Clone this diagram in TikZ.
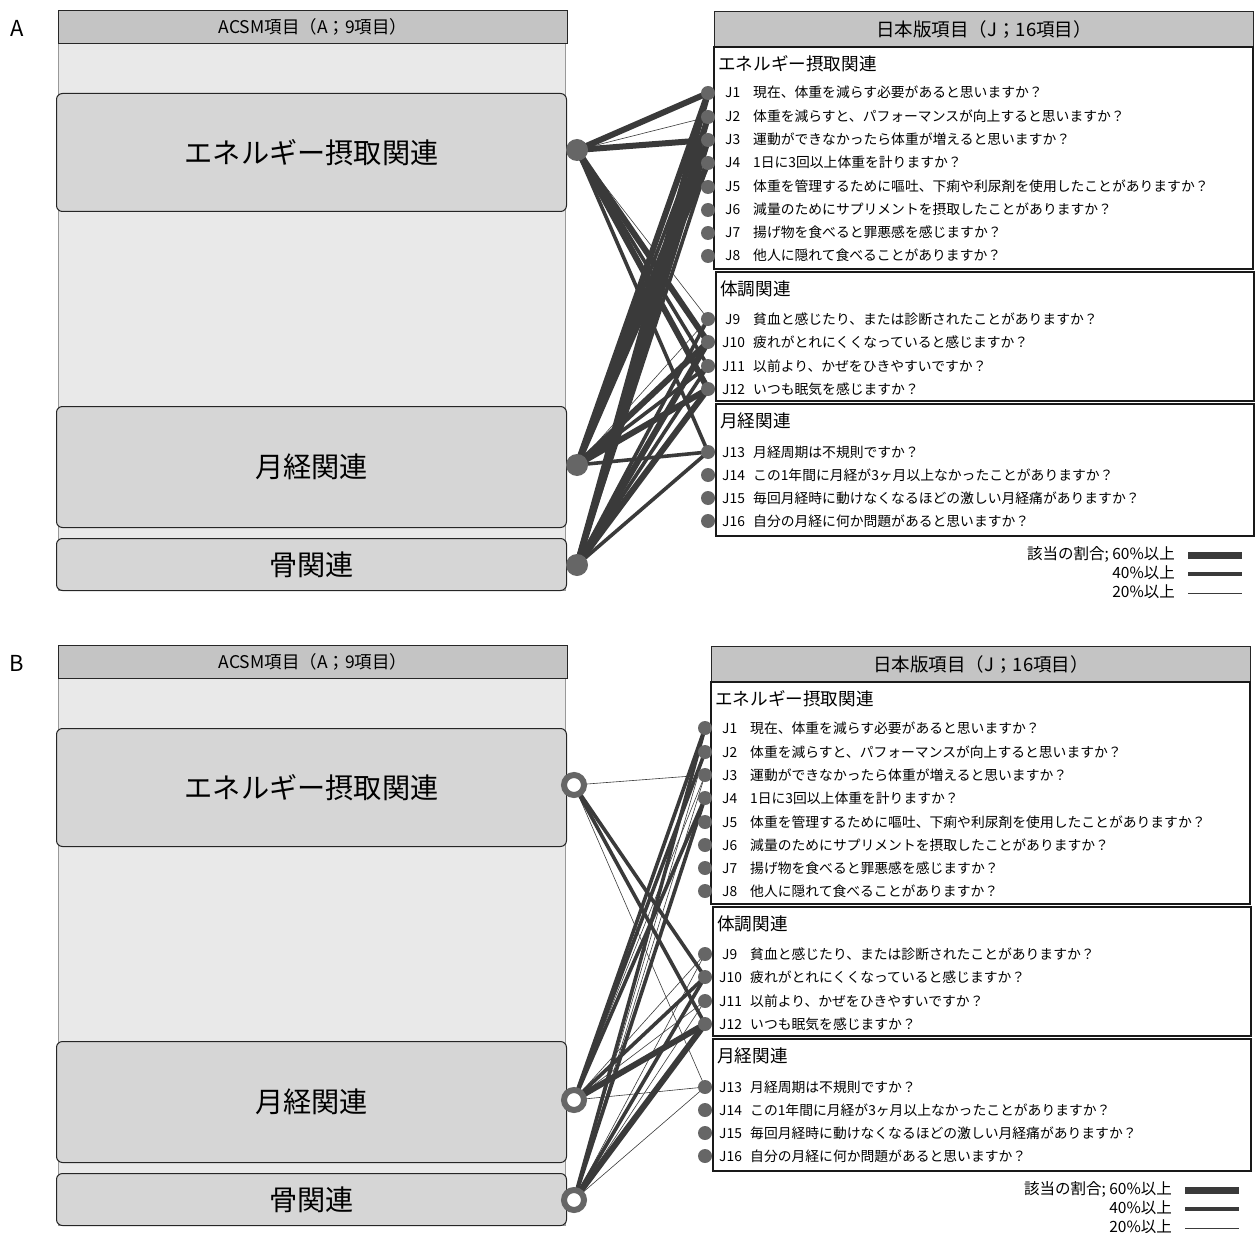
\documentclass[tikz,border=0pt]{standalone}
\usepackage{fontspec}
\setmainfont{Noto Sans CJK JP}
\pgfdeclarelayer{edges}
\pgfdeclarelayer{top}
\pgfsetlayers{main,edges,top}
\definecolor{hdrfill}{HTML}{C4C4C4}
\definecolor{colfill}{HTML}{E9E9E9}
\definecolor{catfill}{HTML}{D6D6D6}
\definecolor{dotgray}{HTML}{666666}
\definecolor{edgecol}{HTML}{3A3A3A}
\tikzset{
  hdrbox/.style={draw=black!85,line width=1.1pt,fill=hdrfill,anchor=north west,inner sep=0pt},
  colbg/.style={draw=black!40,line width=0.6pt,fill=colfill},
  catbox/.style={draw=black!85,line width=1pt,fill=catfill,rounded corners=6pt,anchor=north west,inner sep=0pt,font=\fontsize{28.2}{30}\selectfont},
  grpbox/.style={draw=black!90,line width=1.1pt,fill=white},
  grptitle/.style={anchor=west,inner sep=0pt,font=\fontsize{17.6}{19}\selectfont},
  jdot/.style={circle,fill=dotgray,inner sep=0pt,minimum size=14pt},
  anodeA/.style={circle,fill=dotgray,inner sep=0pt,minimum size=22pt},
  anodeB/.style={circle,fill=white,draw=dotgray,line width=6pt,inner sep=0pt,minimum size=20pt},
  e60/.style={draw=edgecol,line width=6pt},
  e40/.style={draw=edgecol,line width=3.6pt},
  e20/.style={draw=edgecol,line width=0.6pt},
  itemtxt/.style={anchor=west,inner sep=0pt,text height=0.8em,text depth=0.2em,font=\fontsize{13.8}{14}\selectfont},
  legtxt/.style={anchor=east,inner sep=0pt,text height=0.8em,text depth=0.2em,font=\fontsize{15.5}{16}\selectfont},
  panlbl/.style={anchor=center,inner sep=0pt,font=\fontsize{22}{24}\selectfont},
}
% #1 prefix, #2 y shift, #3 x shift of right part, #4 left node style, #5 letter, #6 left node x
\newcommand{\drawpanel}[6]{%
\begin{scope}[shift={(0,#2)}]
  \node[panlbl] (#1let) at (17,28) {#5};
  % left column
  \path[colbg] (58,43) rectangle (565,590);
  \node[hdrbox,minimum width=509pt,minimum height=33pt,font=\fontsize{17.5}{19}\selectfont] (#1lh) at (58,10) {ACSM項目（A；9項目）};
  \node[catbox,minimum width=510pt,minimum height=118pt] (#1ce) at (56,93) {エネルギー摂取関連};
  \node[catbox,minimum width=510pt,minimum height=121pt] (#1cm) at (56,406) {月経関連};
  \node[catbox,minimum width=510pt,minimum height=52pt] (#1cb) at (56,538) {骨関連};
  % right part
  \begin{scope}[shift={(#3,0)}]
    \node[hdrbox,minimum width=539pt,minimum height=36pt,font=\fontsize{18.5}{20}\selectfont] (#1rh) at (714,11) {日本版項目（J；16項目）};
    \path[grpbox] (714,47) rectangle (1253,269);
    \path[grpbox] (716,272) rectangle (1254,401);
    \path[grpbox] (716,404) rectangle (1254,536);
    \node[grptitle] (#1g1) at (718,64) {エネルギー摂取関連};
    \node[grptitle] (#1g2) at (720,289) {体調関連};
    \node[grptitle] (#1g3) at (720,421) {月経関連};
    \foreach \i/\yy/\txt in {
      1/93/{現在、体重を減らす必要があると思いますか？},
      2/117/{体重を減らすと、パフォーマンスが向上すると思いますか？},
      3/140/{運動ができなかったら体重が増えると思いますか？},
      4/163/{1日に3回以上体重を計りますか？},
      5/187/{体重を管理するために嘔吐、下痢や利尿剤を使用したことがありますか？},
      6/210/{減量のためにサプリメントを摂取したことがありますか？},
      7/233/{揚げ物を食べると罪悪感を感じますか？},
      8/256/{他人に隠れて食べることがありますか？},
      9/319/{貧血と感じたり、または診断されたことがありますか？},
      10/342/{疲れがとれにくくなっていると感じますか？},
      11/366/{以前より、かぜをひきやすいですか？},
      12/389/{いつも眠気を感じますか？},
      13/452/{月経周期は不規則ですか？},
      14/475/{この1年間に月経が3ヶ月以上なかったことがありますか？},
      15/498/{毎回月経時に動けなくなるほどの激しい月経痛がありますか？},
      16/521/{自分の月経に何か問題があると思いますか？}}{
      \node[itemtxt] (#1L\i) at ({\i<10 ? 725 : 722},\yy+2) {J\i};
      \node[itemtxt] (#1T\i) at (753,\yy+2) {\txt};
      \begin{pgfonlayer}{top}
        \node[jdot] (#1J\i) at (708,\yy) {};
      \end{pgfonlayer}
    }
    % legend
    \node[legtxt] (#1lg1) at (1175,556) {該当の割合; 60\%以上};
    \node[legtxt] (#1lg2) at (1175,575) {40\%以上};
    \node[legtxt] (#1lg3) at (1175,594) {20\%以上};
    \coordinate (#1la1) at (1188,555); \coordinate (#1lb1) at (1242,555);
    \coordinate (#1la2) at (1188,574); \coordinate (#1lb2) at (1242,574);
    \coordinate (#1la3) at (1188,593); \coordinate (#1lb3) at (1242,593);
    \draw[edgecol,line width=7pt] (#1la1) -- (#1lb1);
    \draw[edgecol,line width=3.6pt] (#1la2) -- (#1lb2);
    \draw[edgecol,line width=0.6pt] (#1la3) -- (#1lb3);
  \end{scope}
  \begin{pgfonlayer}{top}
    \node[#4] (#1E) at (#6,150) {};
    \node[#4] (#1M) at (#6,465) {};
    \node[#4] (#1B) at (#6,565) {};
  \end{pgfonlayer}
\end{scope}}
\newcommand{\lnk}[4]{\draw[#4] (#1#2.center) -- (#1#3.center);}

\begin{document}
\begin{tikzpicture}[x=1pt,y=-1pt]
\useasboundingbox (0,0) rectangle (1255,1233);
\drawpanel{A}{0}{0}{anodeA}{A}{577}
\drawpanel{B}{635}{-3}{anodeB}{B}{574}
\begin{pgfonlayer}{edges}
  % panel A
  \lnk{A}{E}{J1}{e60} \lnk{A}{E}{J2}{e20} \lnk{A}{E}{J3}{e60}
  \lnk{A}{E}{J9}{e20} \lnk{A}{E}{J10}{e60} \lnk{A}{E}{J11}{e40}
  \lnk{A}{E}{J12}{e60} \lnk{A}{E}{J13}{e40}
  \lnk{A}{M}{J1}{e60} \lnk{A}{M}{J2}{e40} \lnk{A}{M}{J3}{e60} \lnk{A}{M}{J4}{e60}
  \lnk{A}{M}{J9}{e20} \lnk{A}{M}{J10}{e60} \lnk{A}{M}{J11}{e40} \lnk{A}{M}{J12}{e60}
  \lnk{A}{M}{J13}{e40}
  \lnk{A}{B}{J1}{e60} \lnk{A}{B}{J2}{e60} \lnk{A}{B}{J3}{e60} \lnk{A}{B}{J4}{e40}
  \lnk{A}{B}{J9}{e40} \lnk{A}{B}{J10}{e60} \lnk{A}{B}{J11}{e40} \lnk{A}{B}{J12}{e60}
  \lnk{A}{B}{J13}{e40}
  % panel B
  \lnk{B}{E}{J3}{e20} \lnk{B}{E}{J10}{e40} \lnk{B}{E}{J12}{e40} \lnk{B}{E}{J13}{e20}
  \lnk{B}{M}{J1}{e40} \lnk{B}{M}{J2}{e40} \lnk{B}{M}{J3}{e20} \lnk{B}{M}{J4}{e40}
  \lnk{B}{M}{J9}{e20} \lnk{B}{M}{J10}{e40} \lnk{B}{M}{J11}{e20} \lnk{B}{M}{J12}{e60}
  \lnk{B}{M}{J13}{e20}
  \lnk{B}{B}{J1}{e40} \lnk{B}{B}{J2}{e20} \lnk{B}{B}{J3}{e20} \lnk{B}{B}{J4}{e40}
  \lnk{B}{B}{J9}{e20} \lnk{B}{B}{J10}{e40} \lnk{B}{B}{J11}{e20} \lnk{B}{B}{J12}{e60}
  \lnk{B}{B}{J13}{e20}
\end{pgfonlayer}
\end{tikzpicture}
\end{document}
